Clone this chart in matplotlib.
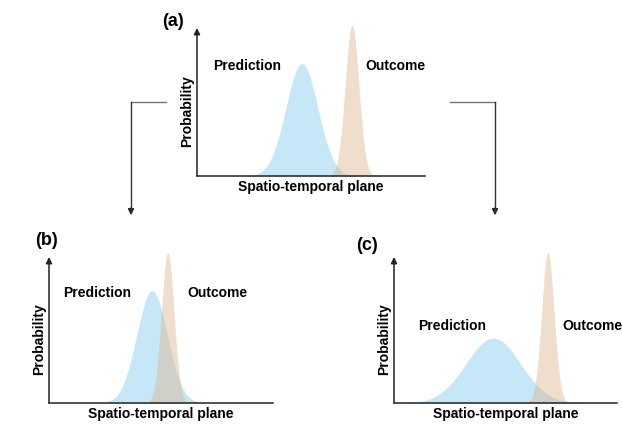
import numpy as np
import matplotlib
matplotlib.use('Agg')
import matplotlib.pyplot as plt
from matplotlib.patches import FancyArrowPatch

plt.rcParams['font.family'] = ['Liberation Sans', 'DejaVu Sans']

W, H = 622, 426

# panel info: label, axes origin (px), x-axis length, y-axis length (px)
panels = ['(a)', '(b)', '(c)']
origins = [(197, 176), (49, 403), (394, 403)]
x_len = [228, 224, 223]
y_len = [148, 146, 146]

# curve parameters in axes units (0..1): mean, sigma, peak
pred_mean = [0.46, 0.46, 0.445]
pred_sigma = [0.07, 0.068, 0.122]
pred_peak = [0.76, 0.77, 0.445]
out_mean = [0.68, 0.53, 0.69]
out_sigma = [0.03, 0.028, 0.028]
out_peak = [1.02, 1.03, 1.03]

# text positions (px)
label_pos = [(173, 22), (47, 241), (367, 245)]
pred_pos = [(213, 66), (63, 293), (418, 326)]
out_pos = [(365, 66), (187, 293), (562, 326)]

blue = '#8dd1f2'
tan = '#dcb68f'


def fx(x):
    return x / W


def fy(y):
    return 1 - y / H


fig = plt.figure(figsize=(W / 100, H / 100), dpi=100)

for i in range(3):
    ox, oy = origins[i]
    ax = fig.add_axes([fx(ox), fy(oy), x_len[i] / W, y_len[i] / H])
    ax.set_xlim(0, 1)
    ax.set_ylim(0, 1)
    ax.set_axis_off()

    x = np.linspace(0, 1, 600)
    yp = pred_peak[i] * np.exp(-0.5 * ((x - pred_mean[i]) / pred_sigma[i]) ** 2)
    yo = out_peak[i] * np.exp(-0.5 * ((x - out_mean[i]) / out_sigma[i]) ** 2)
    ax.fill_between(x, 0, yp, color=blue, alpha=0.5, lw=0, clip_on=False)
    ax.fill_between(x, 0, yo, color=tan, alpha=0.45, lw=0, clip_on=False)

    # axes
    ax.plot([0, 1], [0, 0], color='#222222', lw=1.1, clip_on=False)
    ax.annotate('', xy=(0, 1), xytext=(0, 0), xycoords='axes fraction',
                arrowprops=dict(arrowstyle='-|>', color='#222222', lw=1.1,
                                mutation_scale=9, shrinkA=0, shrinkB=0))

    fig.text(fx(label_pos[i][0]), fy(label_pos[i][1]), panels[i],
             fontsize=13, fontweight='bold', ha='center', va='center')
    fig.text(fx(pred_pos[i][0]), fy(pred_pos[i][1]), 'Prediction',
             fontsize=10, fontweight='bold', ha='left', va='center')
    fig.text(fx(out_pos[i][0]), fy(out_pos[i][1]), 'Outcome',
             fontsize=10, fontweight='bold', ha='left', va='center')
    fig.text(fx(ox - 10), fy(oy - y_len[i] * 0.44), 'Probability',
             fontsize=10, fontweight='bold', ha='center', va='center',
             rotation=90)
    fig.text(fx(ox + x_len[i] * 0.5), fy(oy + 11), 'Spatio-temporal plane',
             fontsize=10, fontweight='bold', ha='center', va='center')

# connector arrows from (a) down to (b) and (c)
for hx0, hx1, vx in [(166, 131, 131), (450, 495, 495)]:
    fig.add_artist(plt.Line2D([fx(hx0), fx(hx1)], [fy(102), fy(102)],
                              color='#777777', lw=1.0))
    fig.add_artist(plt.Line2D([fx(vx), fx(vx)], [fy(102), fy(212)],
                              color='#333333', lw=1.0))
    fig.add_artist(FancyArrowPatch(
        (fx(vx), fy(205)), (fx(vx), fy(218)), transform=fig.transFigure,
        arrowstyle='-|>', mutation_scale=9, color='#222222', lw=1.0))

fig.savefig('out.png', dpi=100, facecolor='white')
